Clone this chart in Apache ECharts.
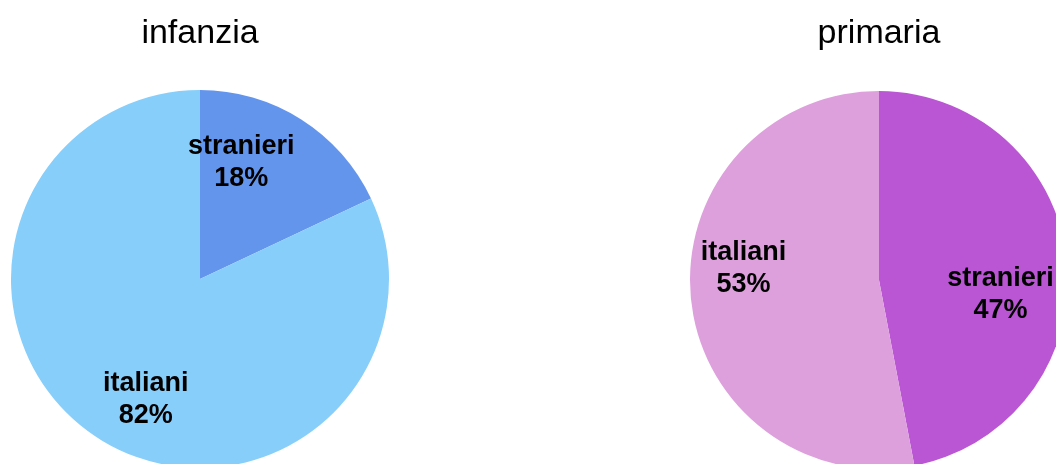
<!DOCTYPE html>
<html>
<head>
<meta charset="utf-8">
<script src="https://cdn.jsdelivr.net/npm/echarts@6/dist/echarts.min.js"></script>
<style>
  html, body { margin: 0; padding: 0; background: #fff; }
  #chart { width: 1056px; height: 464px; }
</style>
</head>
<body>
<div id="chart"></div>
<script>
// dati (percentuali)
var categories = ['stranieri', 'italiani'];
var infanziaValues = [18, 82];
var primariaValues = [47, 53];
var titles = ['infanzia', 'primaria'];

var infanziaColors = ['#6495ED', '#87CEFA'];
var primariaColors = ['#BA55D3', '#DDA0DD'];

var font = '"Liberation Sans", Arial, sans-serif';

function buildData(values, colors) {
	return categories.map(function (name, i) {
		return {name: name, value: values[i], itemStyle: {color: colors[i]}};
	});
}

//fetta vera, senza etichette
function pieSeries(center, values, colors) {
	return {
		type: 'pie',
		center: center,
		radius: [0, 189],
		startAngle: 90,
		clockwise: true,
		silent: true,
		animation: false,
		label: {show: false},
		labelLine: {show: false},
		data: buildData(values, colors)
	};
}

//serie trasparente solo per mettere le etichette più lontano dal centro
//nudge: piccoli spostamenti per avvicinarsi al posizionamento di LibreOffice
function labelSeries(center, values, nudge) {
	return {
		type: 'pie',
		center: center,
		radius: [0, 260],
		startAngle: 90,
		clockwise: true,
		silent: true,
		animation: false,
		itemStyle: {color: 'rgba(0,0,0,0)'},
		label: {
			show: true,
			position: 'inside',
			formatter: '{b}\n{d}%',
			color: '#000',
			fontFamily: font,
			fontWeight: 'bold',
			fontSize: 27,
			lineHeight: 32
		},
		labelLine: {show: false},
		labelLayout: function (params) {
			var n = nudge[params.dataIndex];
			return {dx: n[0], dy: n[1]};
		},
		data: categories.map(function (name, i) {
			return {name: name, value: values[i]};
		})
	};
}

var myChart = echarts.init(document.getElementById('chart'), null, {renderer: 'canvas'});
myChart.setOption({
	animation: false,
	title: [{
		text: titles[0],
		left: 195,
		top: 12,
		textAlign: 'center',
		textStyle: {fontFamily: font, fontWeight: 'normal', fontSize: 34, color: '#000'}
	}, {
		text: titles[1],
		left: 874,
		top: 12,
		textAlign: 'center',
		textStyle: {fontFamily: font, fontWeight: 'normal', fontSize: 34, color: '#000'}
	}],
	series: [
		pieSeries([200, 279], infanziaValues, infanziaColors),
		pieSeries([879, 280], primariaValues, primariaColors),
		labelSeries([200, 279], infanziaValues, [[-30, -4], [17, 8]]),
		labelSeries([879, 280], primariaValues, [[-11, 27], [-3, -24]])
	]
});
</script>
</body>
</html>
